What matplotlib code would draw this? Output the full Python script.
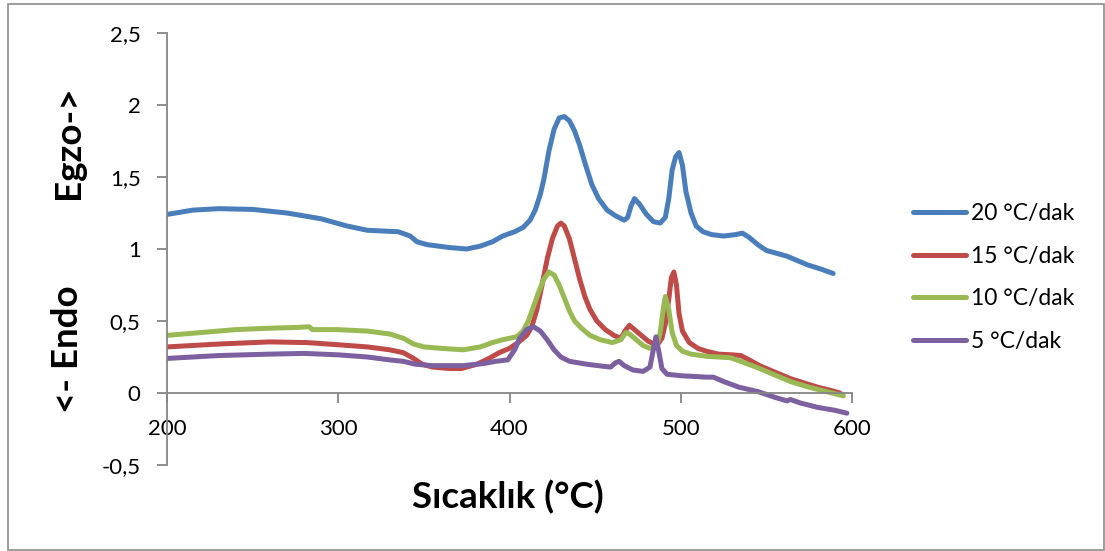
import matplotlib
matplotlib.use("Agg")
import matplotlib.pyplot as plt
from matplotlib.patches import Rectangle

plt.rcParams["font.family"] = ["Lato", "DejaVu Sans"]

# 20 °C/dak
x20 = [200, 215, 230, 250, 270, 290, 305, 317, 335, 342, 346, 352, 365, 375, 383, 390,
       396, 403, 408, 412, 415, 418, 420, 423, 426, 429, 432, 435, 438, 441, 444, 448,
       452, 457, 462, 467, 469, 471, 473, 476, 480, 484, 488, 491, 493, 495, 497, 499,
       501, 503, 506, 509, 513, 518, 525, 532, 536, 540, 545, 550, 556, 562, 568, 574,
       582, 589]
y20 = [1.24, 1.27, 1.28, 1.275, 1.25, 1.21, 1.16, 1.13, 1.12, 1.09, 1.05, 1.03, 1.01, 1.00,
       1.02, 1.05, 1.09, 1.12, 1.15, 1.20, 1.27, 1.38, 1.48, 1.68, 1.83, 1.91, 1.92, 1.89,
       1.82, 1.72, 1.60, 1.45, 1.35, 1.27, 1.23, 1.20, 1.22, 1.30, 1.35, 1.31, 1.24, 1.19,
       1.18, 1.22, 1.35, 1.55, 1.64, 1.67, 1.58, 1.40, 1.25, 1.16, 1.12, 1.10, 1.09, 1.10,
       1.11, 1.08, 1.03, 0.99, 0.97, 0.95, 0.92, 0.89, 0.86, 0.83]

# 15 °C/dak
x15 = [200, 230, 260, 282, 300, 317, 330, 338, 344, 349, 355, 365, 372, 381, 388, 394,
       400, 405, 410, 413, 416, 419, 422, 425, 428, 430, 432, 435, 438, 441, 444, 447,
       451, 456, 461, 465, 468, 470, 473, 477, 481, 486, 489, 491, 493, 494.5, 496, 497.5,
       499, 501, 505, 510, 515, 522, 530, 535, 540, 546, 552, 558, 564, 572, 580, 587, 593]
y15 = [0.32, 0.34, 0.355, 0.35, 0.335, 0.32, 0.30, 0.28, 0.24, 0.20, 0.18, 0.17, 0.17, 0.20,
       0.24, 0.28, 0.31, 0.35, 0.40, 0.46, 0.58, 0.75, 0.93, 1.07, 1.16, 1.18, 1.16, 1.07,
       0.93, 0.79, 0.67, 0.58, 0.50, 0.44, 0.40, 0.38, 0.44, 0.47, 0.44, 0.40, 0.36, 0.33,
       0.38, 0.48, 0.65, 0.80, 0.84, 0.75, 0.55, 0.43, 0.35, 0.31, 0.29, 0.27, 0.265, 0.26,
       0.23, 0.19, 0.16, 0.13, 0.10, 0.07, 0.04, 0.02, 0.00]

# 10 °C/dak
x10 = [200, 220, 240, 260, 275, 283, 285, 300, 317, 330, 338, 344, 350, 360, 373, 383,
       390, 396, 404, 408, 411, 414, 417, 420, 423, 426, 429, 432, 435, 438, 442, 447,
       453, 460, 465, 468, 470, 474, 478, 482, 486, 488, 490, 491, 493, 495, 497.5, 501,
       506, 515, 522, 529, 535, 544, 552, 558, 564, 575, 585, 595]
y10 = [0.40, 0.42, 0.44, 0.45, 0.455, 0.46, 0.44, 0.44, 0.43, 0.41, 0.38, 0.34, 0.32, 0.31,
       0.30, 0.32, 0.35, 0.37, 0.39, 0.43, 0.50, 0.60, 0.70, 0.79, 0.84, 0.82, 0.75, 0.66,
       0.57, 0.50, 0.45, 0.40, 0.37, 0.35, 0.37, 0.42, 0.41, 0.37, 0.33, 0.31, 0.33, 0.42,
       0.60, 0.67, 0.58, 0.42, 0.33, 0.29, 0.27, 0.255, 0.25, 0.245, 0.22, 0.18, 0.14, 0.11,
       0.08, 0.04, 0.01, -0.02]

# 5 °C/dak
x5 = [200, 230, 260, 280, 300, 317, 330, 338, 345, 355, 373, 385, 392, 399, 403, 406,
      410, 414, 418, 422, 426, 430, 435, 445, 455, 459, 462, 464, 467, 472, 478, 482,
      484, 485.5, 487, 489, 492, 500, 508, 515, 519, 525, 534, 545, 555, 562, 564, 570,
      580, 590, 597]
y5 = [0.24, 0.26, 0.27, 0.275, 0.265, 0.25, 0.23, 0.22, 0.20, 0.19, 0.19, 0.205, 0.22, 0.23,
      0.30, 0.38, 0.44, 0.46, 0.43, 0.37, 0.30, 0.25, 0.22, 0.20, 0.185, 0.18, 0.21, 0.22,
      0.19, 0.16, 0.15, 0.18, 0.30, 0.39, 0.30, 0.17, 0.13, 0.12, 0.115, 0.11, 0.11, 0.08,
      0.04, 0.01, -0.03, -0.055, -0.045, -0.07, -0.10, -0.12, -0.14]

labels = ["20 °C/dak", "15 °C/dak", "10 °C/dak", "5 °C/dak"]
colors = ["#4A7EBB", "#BE4B48", "#98B954", "#7D60A0"]

xticks = [200, 300, 400, 500, 600]
yticks = [-0.5, 0, 0.5, 1, 1.5, 2, 2.5]
ytick_labels = ["-0,5", "0", "0,5", "1", "1,5", "2", "2,5"]

fig = plt.figure(figsize=(11.05, 5.51), dpi=100)
ax = fig.add_axes([167 / 1105, 86 / 551, 685 / 1105, 432 / 551])

for xs, ys, lab, c in zip([x20, x15, x10, x5], [y20, y15, y10, y5], labels, colors):
    ax.plot(xs, ys, color=c, lw=3.6, label=lab, solid_joinstyle="round", solid_capstyle="round")

ax.set_xlim(200, 600)
ax.set_ylim(-0.5, 2.5)
ax.set_xticks(xticks)
ax.set_yticks(yticks)
ax.set_yticklabels(ytick_labels)

for s in ["top", "right"]:
    ax.spines[s].set_visible(False)
ax.spines["bottom"].set_position(("data", 0))
for s in ["left", "bottom"]:
    ax.spines[s].set_color("#868686")
    ax.spines[s].set_linewidth(1.3)
ax.tick_params(axis="both", direction="out", length=7, width=1.3, color="#868686",
               labelsize=16, pad=12)

fig.text(508 / 1105, 1 - 497 / 551, "Sıcaklık (°C)", ha="center", va="center",
         fontsize=26.5, fontweight="bold")
fig.text(68 / 1105, 1 - 142 / 551, "Egzo->", ha="center", va="center", rotation=90,
         fontsize=26.5, fontweight="bold")
fig.text(68 / 1105, 1 - 349 / 551, "<- Endo", ha="center", va="center", rotation=90,
         fontsize=26.5, fontweight="bold")

fig.legend(loc="center left", bbox_to_anchor=(913 / 1105, 1 - 277.5 / 551), frameon=False,
           fontsize=16.5, handlelength=2.3, handletextpad=0.25, labelspacing=0.95,
           borderpad=0, borderaxespad=0)

fig.patches.append(Rectangle((8 / 1105, 1 / 551), 1096 / 1105, 546 / 551,
                             transform=fig.transFigure, fill=False, ec="#8C8C8C", lw=1.2))

fig.savefig("out.png", dpi=100)
